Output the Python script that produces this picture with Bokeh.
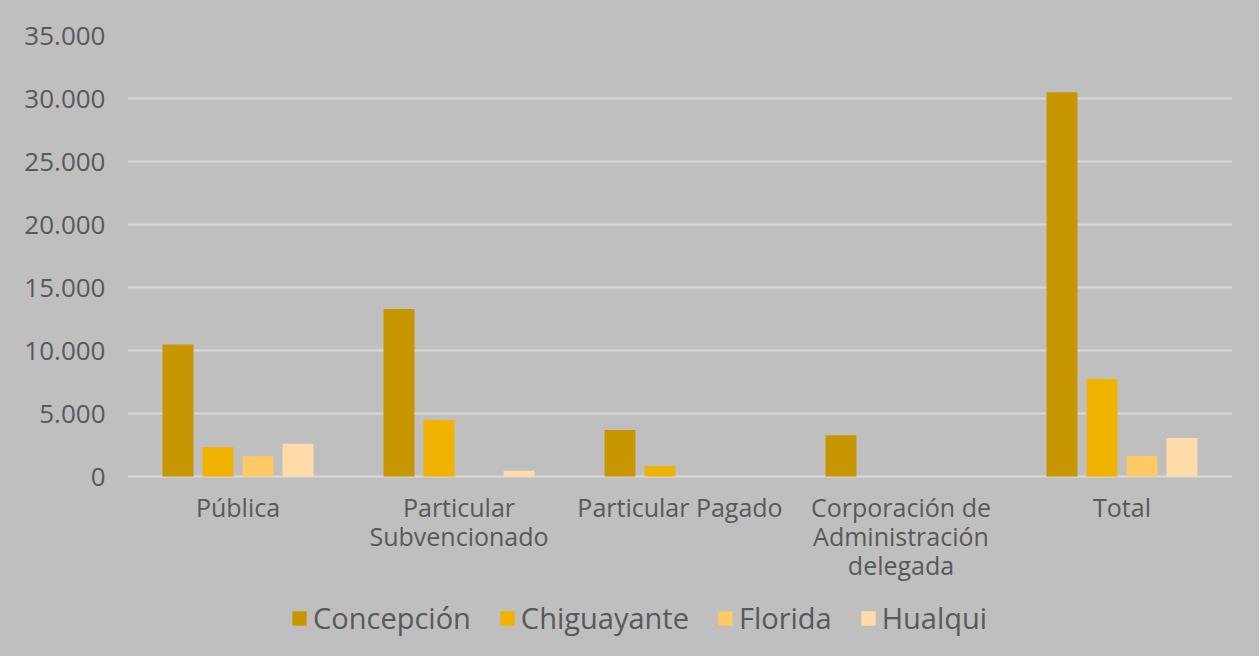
from bokeh.plotting import figure
from bokeh.models import (FactorRange, Range1d, ColumnDataSource, Legend, LegendItem,
                          CustomJSTickFormatter, FixedTicker)
from bokeh.core.properties import value
from bokeh.transform import dodge
from bokeh.embed import file_html
from bokeh.resources import INLINE

categories = ["Pública", "Particular Subvencionado", "Particular Pagado",
              "Corporación de Administración delegada", "Total"]
category_labels = ["Pública", "Particular\nSubvencionado", "Particular Pagado",
                   "Corporación de\nAdministración\ndelegada", "Total"]
series = ["Concepción", "Chiguayante", "Florida", "Hualqui"]
concepcion = [10470, 13290, 3690, 3270, 30490]
chiguayante = [2330, 4480, 830, 0, 7730]
florida = [1610, 0, 0, 0, 1620]
hualqui = [2600, 460, 0, 0, 3060]
y_ticks = [0, 5000, 10000, 15000, 20000, 25000, 30000, 35000]

colors = ["#c89600", "#efb300", "#ffc966", "#ffdba9"]
FONT = "Open Sans"
TEXT = "#595959"
BG = "#bfbfbf"

source = ColumnDataSource(data=dict(cat=categories, Concepción=concepcion,
                                    Chiguayante=chiguayante, Florida=florida,
                                    Hualqui=hualqui))
label_source = ColumnDataSource(data=dict(cat=categories, label=category_labels,
                                          zero=[0] * len(categories)))

# frame spans from y=35 to the bottom of the page; 12.6 px per 1000 units
FRAME_H = 656 - 35
y_bottom = 35000 - FRAME_H / 0.0126

p = figure(x_range=FactorRange(*categories, range_padding=0),
           y_range=Range1d(y_bottom, 35000),
           width=1259, height=656, output_backend="svg", toolbar_location=None,
           min_border_left=127, min_border_right=27, min_border_top=35,
           min_border_bottom=0)
p.background_fill_color = BG
p.border_fill_color = BG
p.outline_line_color = None
p.styles = {"background-color": BG}

offsets = [-0.2715, -0.0905, 0.0905, 0.2715]
renderers = []
for s, c, off in zip(series, colors, offsets):
    r = p.vbar(x=dodge("cat", off, range=p.x_range), top=s, bottom=0, width=0.14,
               source=source, fill_color=c, line_color=None)
    renderers.append(r)

p.text(x="cat", y="zero", text="label", source=label_source,
       text_font=value(FONT), text_font_size="25px", text_color=TEXT,
       text_align="center", text_baseline="top", y_offset=13,
       text_line_height=0.86)

p.xgrid.grid_line_color = None
p.ygrid.grid_line_color = "#d9d9d9"
p.ygrid.grid_line_width = 2
p.ygrid.ticker = FixedTicker(ticks=y_ticks)

p.xaxis.visible = False
p.yaxis.ticker = FixedTicker(ticks=y_ticks)
p.yaxis.formatter = CustomJSTickFormatter(
    code="return tick.toFixed(0).replace(/\\B(?=(\\d{3})+(?!\\d))/g, '.');")
ax = p.yaxis[0]
ax.axis_line_color = None
ax.major_tick_line_color = None
ax.minor_tick_line_color = None
ax.major_label_text_font = FONT
ax.major_label_text_font_size = "26px"
ax.major_label_text_color = TEXT
ax.major_label_standoff = 16

legend = Legend(items=[LegendItem(label=s, renderers=[r]) for s, r in zip(series, renderers)],
                orientation="horizontal", location=(163, 19),
                glyph_width=18, glyph_height=18, label_standoff=5, spacing=27,
                padding=0, margin=0, border_line_color=None,
                background_fill_alpha=0,
                label_text_font=FONT, label_text_font_size="29px",
                label_text_color=TEXT)
p.add_layout(legend, "center")

html = file_html(p, INLINE).replace("<body>", '<body style="background-color:#bfbfbf">', 1)
open("out.html", "w").write(html)
